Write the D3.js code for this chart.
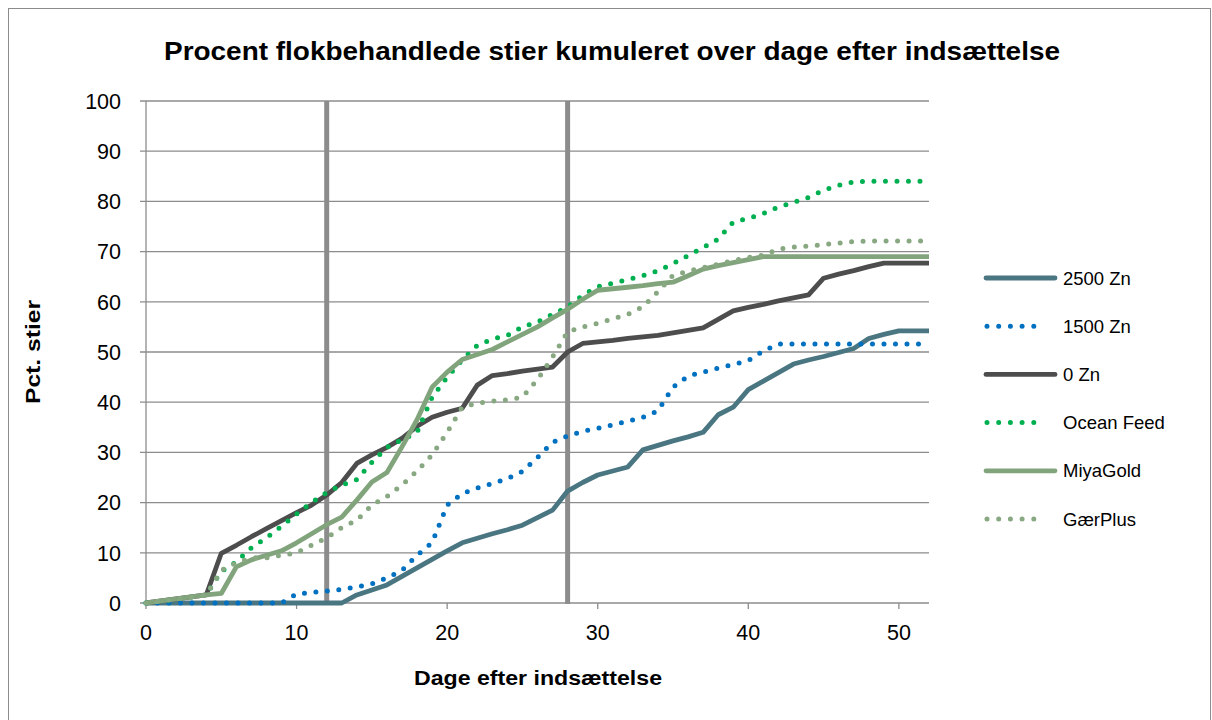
<!DOCTYPE html>
<html><head><meta charset="utf-8">
<script src="https://cdn.jsdelivr.net/npm/d3@7"></script>
<style>body{margin:0;background:#fff}svg{display:block}</style>
</head><body>
<svg id="c" width="1212" height="720"></svg>
<script>
const days = d3.range(0, 53);
const seriesNames = ["2500 Zn","1500 Zn","0 Zn","Ocean Feed","MiyaGold","GærPlus"];
const zn2500 = [0,0,0,0,0,0,0,0,0,0,0,0,0,0,1.6,2.6,3.6,5.3,7,8.7,10.4,12,12.9,13.8,14.6,15.5,17,18.5,22.3,24,25.5,26.3,27.1,30.5,31.4,32.3,33.1,34,37.5,39,42.5,44.2,45.9,47.6,48.4,49.1,49.9,50.7,52.7,53.5,54.2,54.2,54.2];
const zn1500 = [0,0,0,0,0,0,0,0,0,0,1.8,2.1,2.4,2.7,3.2,3.8,5,6.5,9.5,12,19.5,21.8,22.9,23.8,24.8,26.2,29,32,33.3,34.2,34.8,35.5,36.2,37,38.3,43,45.2,46,46.8,47.5,48.3,50.2,51.6,51.6,51.6,51.6,51.6,51.6,51.6,51.6,51.6,51.6,51.6];
const zn0 = [0,0.4,0.8,1.2,1.6,9.9,11.5,13.2,14.8,16.4,18,19.5,21.5,24,27.8,29.5,31,32.8,35.2,37,38,38.8,43.4,45.3,45.7,46.2,46.6,47,50,51.7,52,52.3,52.7,53,53.3,53.8,54.3,54.8,56.5,58.2,58.9,59.5,60.2,60.8,61.4,64.7,65.5,66.2,67,67.7,67.7,67.7,67.7];
const oceanFeed = [0,0.4,0.8,1.2,1.6,6.3,8.2,11,13,15.3,17.7,20,22,23.5,24.6,28,31,32.5,34,41,45,48.4,51.3,52.6,53.3,55,56,57.5,59,61.3,63,63.7,64.4,65.2,66.2,67.6,69.2,70.8,72.5,75.9,76.6,77.6,78.9,79.8,80.8,82.2,83.2,83.9,84,84,84,84,84];
const miyaGold = [0,0.4,0.8,1.2,1.6,1.9,7.2,8.6,9.5,10.4,12,13.8,15.6,17.1,20.5,24.1,26,31.1,36.5,43,46,48.5,49.5,50.5,52,53.5,55,56.8,58.5,60.5,62.3,62.6,62.9,63.2,63.6,63.9,65.2,66.5,67.2,67.8,68.4,69,69,69,69,69,69,69,69,69,69,69,69];
const gaerPlus = [0,0.4,0.8,1.2,1.6,6.5,8,9,9,9.5,10,11.5,13,15,16.5,19.5,21.2,23.5,26.3,29.5,34,39,39.8,40.2,40.5,41,44.5,49,54,55,55.7,56.6,57.5,59,62,65.3,66.1,66.8,67.5,68.2,68.8,69.3,70.5,70.9,71.1,71.4,71.7,72,72.1,72.1,72.1,72.1,72.1];
const xTicks = [0,10,20,30,40,50];
const yTicks = [0,10,20,30,40,50,60,70,80,90,100];
const markerDays = [12, 28];
const title = "Procent flokbehandlede stier kumuleret over dage efter indsættelse";
const xTitle = "Dage efter indsættelse";
const yTitle = "Pct. stier";

const seriesData = [zn2500, zn1500, zn0, oceanFeed, miyaGold, gaerPlus];
const styles = [
  {color:"#4A7682", dotted:false},
  {color:"#0070C0", dotted:true},
  {color:"#4D4D4D", dotted:false},
  {color:"#00B050", dotted:true},
  {color:"#82A47C", dotted:false},
  {color:"#88A882", dotted:true}
];

const svg = d3.select("#c");
const font = "Liberation Sans, Arial, sans-serif";
svg.append("rect").attr("x",8.5).attr("y",8.5).attr("width",1202).attr("height",720)
  .attr("fill","#fff").attr("stroke","#8c8c8c").attr("stroke-width",1);

const x = d3.scaleLinear().domain([0,52]).range([146,929]);
const y = d3.scaleLinear().domain([0,100]).range([603,101]);

svg.append("g").selectAll("line").data(yTicks).join("line")
  .attr("x1",x(0)-6).attr("x2",x(52)).attr("y1",d=>y(d)).attr("y2",d=>y(d))
  .attr("stroke","#8c8c8c").attr("stroke-width",1.3);
svg.append("line").attr("x1",x(0)).attr("x2",x(0)).attr("y1",y(100)).attr("y2",y(0))
  .attr("stroke","#8c8c8c").attr("stroke-width",1.3);
svg.append("g").selectAll("line").data(xTicks).join("line")
  .attr("x1",d=>x(d)).attr("x2",d=>x(d)).attr("y1",y(0)).attr("y2",y(0)+6)
  .attr("stroke","#8c8c8c").attr("stroke-width",1.3);

svg.append("g").selectAll("text").data(yTicks).join("text")
  .attr("x",121).attr("y",d=>y(d)).attr("dy","0.36em").attr("text-anchor","end")
  .attr("font-family",font).attr("font-size",21.5).attr("fill","#000").text(d=>d);
svg.append("g").selectAll("text").data(xTicks).join("text")
  .attr("x",d=>x(d)).attr("y",640).attr("text-anchor","middle")
  .attr("font-family",font).attr("font-size",21.5).attr("fill","#000").text(d=>d);

svg.append("g").selectAll("line").data(markerDays).join("line")
  .attr("x1",d=>x(d)).attr("x2",d=>x(d)).attr("y1",y(100)).attr("y2",y(0)+1)
  .attr("stroke","#8c8c8c").attr("stroke-width",5);

const line = d3.line().x((d,i)=>x(days[i])).y(d=>y(d));
seriesData.forEach((s,i)=>{
  const st = styles[i];
  const p = svg.append("path").datum(s).attr("d",line).attr("fill","none")
    .attr("stroke",st.color).attr("stroke-linejoin","round");
  if (st.dotted) p.attr("stroke-width",5).attr("stroke-linecap","round").attr("stroke-dasharray","0 11.5");
  else p.attr("stroke-width",4.8).attr("stroke-linecap","butt");
});

const lg = svg.append("g");
seriesNames.forEach((n,i)=>{
  const yy = 278 + i*48.2;
  const st = styles[i];
  const l = lg.append("line").attr("x1",st.dotted?987:986).attr("x2",st.dotted?1045:1055).attr("y1",yy).attr("y2",yy)
    .attr("stroke",st.color).attr("stroke-linecap","round");
  if (st.dotted) l.attr("stroke-width",5).attr("stroke-dasharray","0 11.7");
  else l.attr("stroke-width",4.8);
  lg.append("text").attr("x",1063).attr("y",yy).attr("dy","0.36em")
    .attr("font-family",font).attr("font-size",18.5).attr("fill","#000").text(n);
});

svg.append("text").attr("x",612).attr("y",60).attr("text-anchor","middle")
  .attr("font-family",font).attr("font-weight","bold").attr("font-size",26)
  .attr("textLength",896).attr("lengthAdjust","spacingAndGlyphs").text(title);
svg.append("text").attr("x",538).attr("y",685).attr("text-anchor","middle")
  .attr("font-family",font).attr("font-weight","bold").attr("font-size",20)
  .attr("textLength",248).attr("lengthAdjust","spacingAndGlyphs").text(xTitle);
svg.append("text").attr("transform","translate(40,352) rotate(-90)").attr("text-anchor","middle")
  .attr("font-family",font).attr("font-weight","bold").attr("font-size",20)
  .attr("textLength",104).attr("lengthAdjust","spacingAndGlyphs").text(yTitle);
</script>
</body></html>
